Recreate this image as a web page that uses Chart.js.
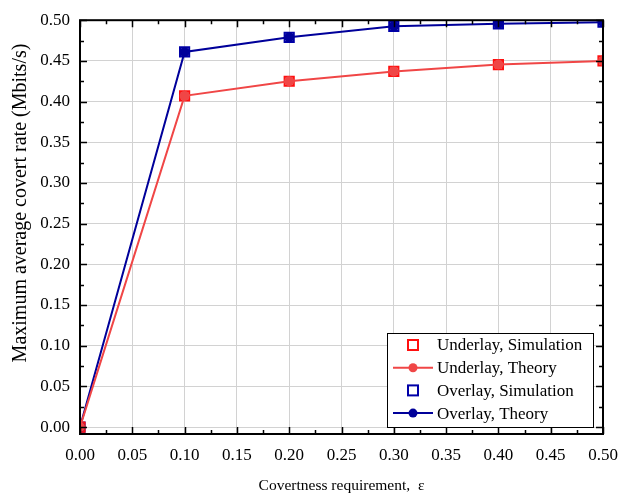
<!DOCTYPE html>
<html>
<head>
<meta charset="utf-8">
<script src="https://cdn.jsdelivr.net/npm/chart.js@4.4.1/dist/chart.umd.min.js"></script>
<style>
  html, body { margin:0; padding:0; background:#fff; }
  #wrap { width:632px; height:495px; }
</style>
</head>
<body>
<div id="wrap"><canvas id="chart" width="632" height="495"></canvas></div>
<script>
// data
const epsilon = [0, 0.1, 0.2, 0.3, 0.4, 0.5];
const underlaySim = [0, 0.407, 0.425, 0.437, 0.4455, 0.450];
const underlayTheory = [0, 0.407, 0.425, 0.437, 0.4455, 0.450];
const overlaySim = [0, 0.461, 0.479, 0.4925, 0.4955, 0.4975];
const overlayTheory = [0, 0.461, 0.479, 0.4925, 0.4955, 0.4975];
const tickValues = [0, 0.05, 0.1, 0.15, 0.2, 0.25, 0.3, 0.35, 0.4, 0.45, 0.5];
const yTitle = "Maximum average covert rate (Mbits/s)";
const xTitle = "Covertness requirement,  ε";

const FONT = "'Liberation Serif', 'Times New Roman', serif";
const RED_SIM = "#ff1010";
const RED_TH = "#f04646";
const BLUE_SIM = "#0000a8";
const BLUE_TH = "#00009a";

const legendItems = [
  { text: "Underlay, Simulation", color: RED_SIM, kind: "square" },
  { text: "Underlay, Theory", color: RED_TH, kind: "line" },
  { text: "Overlay, Simulation", color: BLUE_SIM, kind: "square" },
  { text: "Overlay, Theory", color: BLUE_TH, kind: "line" }
];

const pts = arr => arr.map((v, i) => ({ x: epsilon[i], y: v }));

// frame, inward ticks, y title and legend
const framePlugin = {
  id: "frame",
  afterDatasetsDraw(chart) {
    const { ctx, chartArea: a, scales: { x, y } } = chart;
    ctx.save();
    ctx.strokeStyle = "#000";
    ctx.lineWidth = 1.5;
    for (let i = 0; i <= 20; i++) {
      const v = i * 0.025;
      const len = i % 2 === 0 ? 7 : 4;
      const px = Math.round(x.getPixelForValue(v)) + 0.5;
      ctx.beginPath();
      ctx.moveTo(px, a.bottom); ctx.lineTo(px, a.bottom - len);
      ctx.moveTo(px, a.top); ctx.lineTo(px, a.top + len);
      ctx.stroke();
      const py = Math.round(y.getPixelForValue(v)) + 0.5;
      ctx.beginPath();
      ctx.moveTo(a.left, py); ctx.lineTo(a.left + len, py);
      ctx.moveTo(a.right, py); ctx.lineTo(a.right - len, py);
      ctx.stroke();
    }
    ctx.lineWidth = 2;
    ctx.strokeRect(a.left, a.top, a.right - a.left, a.bottom - a.top);

    // y axis title
    ctx.save();
    ctx.translate(21, 203);
    ctx.rotate(-Math.PI / 2);
    ctx.font = "20px " + FONT;
    ctx.fillStyle = "#000";
    ctx.textAlign = "center";
    ctx.textBaseline = "middle";
    ctx.fillText(yTitle, 0, 0);
    ctx.restore();

    // legend
    const bx = 387, by = 333, bw = 206, bh = 94;
    ctx.fillStyle = "#fff";
    ctx.fillRect(bx, by, bw, bh);
    ctx.lineWidth = 1;
    ctx.strokeStyle = "#000";
    ctx.strokeRect(bx + 0.5, by + 0.5, bw, bh);
    ctx.font = "17px " + FONT;
    ctx.textBaseline = "middle";
    legendItems.forEach((it, i) => {
      const cy = 345 + i * 22.7;
      const cx = 413;
      if (it.kind === "square") {
        ctx.strokeStyle = it.color;
        ctx.lineWidth = 2;
        ctx.strokeRect(cx - 5, cy - 5, 10, 10);
      } else {
        ctx.strokeStyle = it.color;
        ctx.lineWidth = 2;
        ctx.beginPath();
        ctx.moveTo(393, cy); ctx.lineTo(433, cy);
        ctx.stroke();
        ctx.fillStyle = it.color;
        ctx.beginPath();
        ctx.arc(cx, cy, 4.5, 0, Math.PI * 2);
        ctx.fill();
      }
      ctx.fillStyle = "#000";
      ctx.fillText(it.text, 437, cy + 1);
    });
    ctx.restore();
  }
};

new Chart(document.getElementById("chart"), {
  type: "scatter",
  data: {
    datasets: [
      {
        label: "Underlay, Theory",
        data: pts(underlayTheory),
        showLine: true,
        borderColor: RED_TH,
        backgroundColor: RED_TH,
        borderWidth: 2,
        pointStyle: "circle",
        pointRadius: 5,
        pointBorderWidth: 0,
        clip: 0
      },
      {
        label: "Overlay, Theory",
        data: pts(overlayTheory),
        showLine: true,
        borderColor: BLUE_TH,
        backgroundColor: BLUE_TH,
        borderWidth: 2,
        pointStyle: "circle",
        pointRadius: 5,
        pointBorderWidth: 0,
        clip: 0
      },
      {
        label: "Underlay, Simulation",
        data: pts(underlaySim),
        showLine: false,
        borderColor: RED_SIM,
        backgroundColor: "rgba(0,0,0,0)",
        pointStyle: "rect",
        pointRadius: 6.5,
        pointBorderWidth: 2,
        clip: 0
      },
      {
        label: "Overlay, Simulation",
        data: pts(overlaySim),
        showLine: false,
        borderColor: BLUE_SIM,
        backgroundColor: "rgba(0,0,0,0)",
        pointStyle: "rect",
        pointRadius: 6.5,
        pointBorderWidth: 2,
        clip: 0
      }
    ]
  },
  options: {
    responsive: false,
    animation: false,
    layout: { padding: { left: 0, top: 14, right: 29, bottom: 0 } },
    plugins: { legend: { display: false }, tooltip: { enabled: false } },
    scales: {
      x: {
        type: "linear",
        min: 0,
        max: 0.5,
        afterBuildTicks: s => { s.ticks = tickValues.map(v => ({ value: v })); },
        afterFit: s => { s.height = 61; },
        grid: { color: "#d2d2d2", lineWidth: 1, drawTicks: false },
        border: { display: false },
        ticks: {
          color: "#000",
          font: { family: FONT, size: 17 },
          padding: 11,
          maxRotation: 0,
          callback: v => Number(v).toFixed(2)
        },
        title: {
          display: true,
          text: xTitle,
          color: "#000",
          font: { family: FONT, size: 15.5 },
          padding: { top: 6, bottom: 0 }
        }
      },
      y: {
        type: "linear",
        min: -0.0085,
        max: 0.5,
        afterBuildTicks: s => { s.ticks = tickValues.map(v => ({ value: v })); },
        afterFit: s => { s.width = 80; },
        grid: { color: "#d2d2d2", lineWidth: 1, drawTicks: false },
        border: { display: false },
        ticks: {
          color: "#000",
          font: { family: FONT, size: 17 },
          padding: 10,
          callback: v => Number(v).toFixed(2)
        },
        title: { display: false }
      }
    }
  },
  plugins: [framePlugin]
});
</script>
</body>
</html>
